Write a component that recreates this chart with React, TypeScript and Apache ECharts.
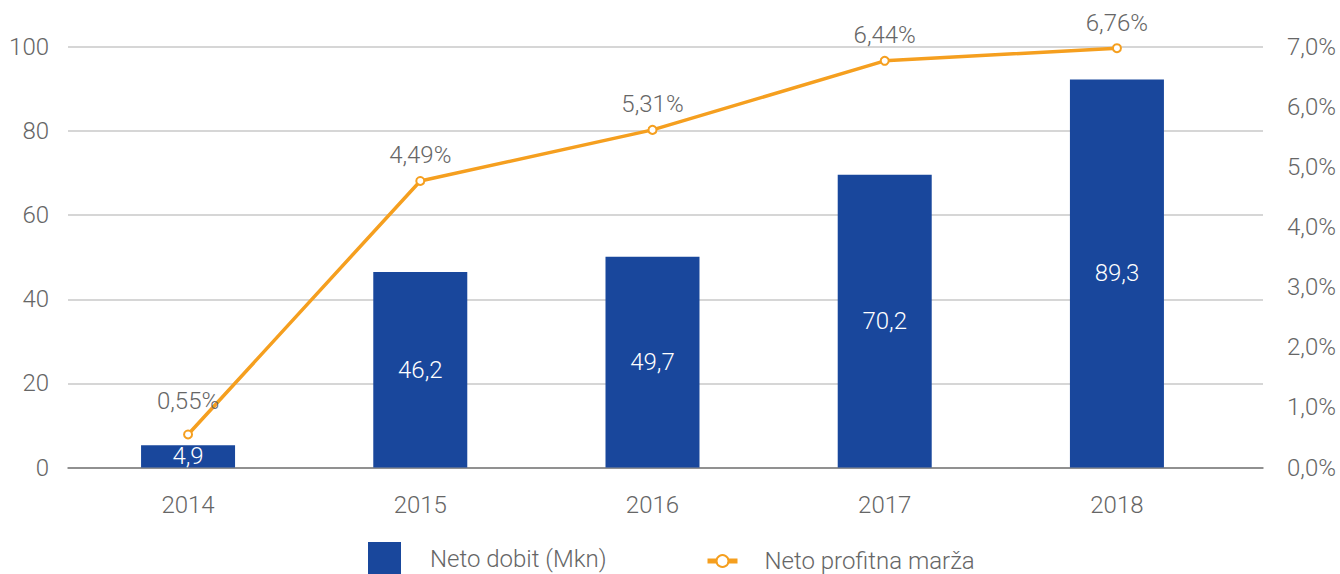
import React, { useEffect, useRef } from "react";
import * as echarts from "echarts";

const years = ["2014", "2015", "2016", "2017", "2018"];
// plotted bar heights (as drawn) and their printed labels
const profitValues = [5.3, 46.5, 50.1, 69.6, 92.3];
const profitLabels = ["4,9", "46,2", "49,7", "70,2", "89,3"];
// plotted margin positions (as drawn) and their printed labels
const marginValues = [0.55, 4.77, 5.62, 6.77, 6.98];
const marginLabels = ["0,55%", "4,49%", "5,31%", "6,44%", "6,76%"];

const FONT = "Roboto";
const GRAY = "#666666";
const BLUE = "#19479c";
const ORANGE = "#f59f1f";

export default function App() {
  const ref = useRef<HTMLDivElement>(null);
  useEffect(() => {
    if (!ref.current) return;
    const chart = echarts.init(ref.current, null, { renderer: "svg" });
    const txt = { fontFamily: FONT, fontSize: 24, fontWeight: 300, color: GRAY };
    chart.setOption({
      animation: false,
      grid: { left: 68, right: 77, top: 47, bottom: 106.5 },
      legend: [
        {
          data: [{ name: "Neto dobit (Mkn)", icon: "rect" }],
          left: 368,
          top: 542,
          padding: 0,
          itemWidth: 33,
          itemHeight: 33,
          textStyle: { ...txt, lineHeight: 24, padding: [0, 0, 0, 24] },
        },
        {
          data: ["Neto profitna marža"],
          left: 705,
          top: 549,
          padding: 0,
          itemWidth: 30,
          itemHeight: 15,
          lineStyle: { width: 5 },
          itemStyle: { borderWidth: 3.5 },
          textStyle: { ...txt, lineHeight: 22, padding: [0, 0, 0, 22] },
        },
      ],
      xAxis: {
        type: "value",
        min: -0.517,
        max: 4.629,
        axisLine: { show: true, lineStyle: { color: "#7a7a7a", width: 1.5 } },
        axisTick: { show: false },
        splitLine: { show: false },
        axisLabel: {
          ...txt,
          margin: 25,
          customValues: [0, 1, 2, 3, 4],
          formatter: (v: number) => years[Math.round(v)] ?? "",
        },
      },
      yAxis: [
        {
          type: "value",
          min: 0,
          max: 100,
          interval: 20,
          axisLine: { show: false },
          axisTick: { show: false },
          axisLabel: { ...txt, margin: 19 },
          splitLine: { lineStyle: { color: "#c9c9c9", width: 1.5 } },
        },
        {
          type: "value",
          min: 0,
          max: 7,
          interval: 1,
          axisLine: { show: false },
          axisTick: { show: false },
          axisLabel: {
            ...txt,
            margin: 24,
            formatter: (v: number) => v.toFixed(1).replace(".", ",") + "%",
          },
          splitLine: { show: false },
        },
      ],
      series: [
        {
          name: "Neto dobit (Mkn)",
          type: "bar",
          barWidth: 94,
          itemStyle: { color: BLUE },
          data: profitValues.map((v, i) => [i, v]),
          label: {
            show: true,
            position: "inside",
            ...txt,
            color: "#ffffff",
            formatter: (p: any) => profitLabels[p.dataIndex],
          },
          z: 2,
        },
        {
          name: "Neto profitna marža",
          type: "line",
          yAxisIndex: 1,
          symbol: "emptyCircle",
          symbolSize: 8,
          itemStyle: { color: ORANGE, borderWidth: 4, borderColor: ORANGE },
          lineStyle: { color: ORANGE, width: 3.5 },
          data: marginValues.map((v, i) =>
            i === 0 ? { value: [i, v], label: { distance: 16.5 } } : { value: [i, v] }
          ),
          label: {
            show: true,
            position: "top",
            distance: 8.5,
            ...txt,
            formatter: (p: any) => marginLabels[p.dataIndex],
          },
          z: 3,
        },
      ],
    });
    return () => chart.dispose();
  }, []);
  return (
    <div
      ref={ref}
      style={{ position: "fixed", left: 0, top: 0, width: 1340, height: 574, background: "#fff" }}
    />
  );
}
